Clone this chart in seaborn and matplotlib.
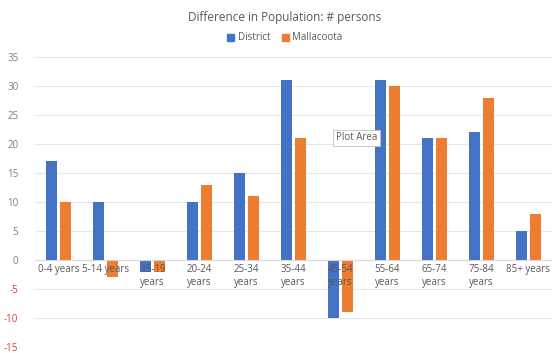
import matplotlib
matplotlib.use("Agg")
import matplotlib.pyplot as plt
import seaborn as sns
import pandas as pd

# data
age_groups = ["0-4 years", "5-14 years", "15-19\nyears", "20-24\nyears", "25-34\nyears",
              "35-44\nyears", "45-54\nyears", "55-64\nyears", "65-74\nyears", "75-84\nyears",
              "85+ years"]
district = [17, 10, -2, 10, 15, 31, -10, 31, 21, 22, 5]
mallacoota = [10, -3, -2, 13, 11, 21, -9, 30, 21, 28, 8]
y_ticks = [-15, -10, -5, 0, 5, 10, 15, 20, 25, 30, 35]

df = pd.DataFrame({
    "age": age_groups * 2,
    "value": district + mallacoota,
    "area": ["District"] * len(district) + ["Mallacoota"] * len(mallacoota),
})

sns.set_theme(style="white")
plt.rcParams['font.family'] = ['Open Sans', 'DejaVu Sans']

fig = plt.figure(figsize=(5.52, 3.53), dpi=100)
ax = fig.add_axes([35 / 552, 6 / 353, 517 / 552, 290 / 353])

sns.barplot(data=df, x="age", y="value", hue="area", order=age_groups,
            palette={"District": "#4472C4", "Mallacoota": "#ED7D31"}, saturation=1,
            width=0.6, gap=0.25, linewidth=0, ax=ax, legend=False)

ax.set_ylim(-15, 35)
ax.set_xlim(-0.5, len(age_groups) - 0.5)
ax.set_yticks(y_ticks)
ax.set_yticklabels([str(t) for t in y_ticks])
for lbl, t in zip(ax.get_yticklabels(), y_ticks):
    lbl.set_color("#e03c3c" if t < 0 else "#7f7f7f")
    lbl.set_fontsize(7)
ax.tick_params(axis="y", length=0, pad=12)
ax.tick_params(axis="x", length=0, pad=3, labelsize=7, labelcolor="#595959")
ax.yaxis.grid(True, color="#e6e6e6", linewidth=0.8)
ax.set_axisbelow(True)
# category labels sit on top of the bars, like in the original
ax.xaxis.set_zorder(3)

for side in ["top", "right", "left"]:
    ax.spines[side].set_visible(False)
ax.spines["bottom"].set_position(("data", 0))
ax.spines["bottom"].set_color("#d9d9d9")
ax.spines["bottom"].set_linewidth(0.8)
ax.set_xlabel("")
ax.set_ylabel("")

fig.text(0.516, 1 - 17 / 353, "Difference in Population: # persons", ha="center", va="center",
         fontsize=8.5, color="#595959")

handles = [plt.Rectangle((0, 0), 1, 1, color="#4472C4"), plt.Rectangle((0, 0), 1, 1, color="#ED7D31")]
fig.legend(handles, ["District", "Mallacoota"], loc="center", bbox_to_anchor=(0.516, 1 - 38 / 353),
           ncol=2, frameon=False, fontsize=7, labelcolor="#595959", handlelength=0.7,
           handleheight=0.7, handletextpad=0.4, columnspacing=1.2)

fig.text(336 / 552, 1 - 138 / 353, "Plot Area", ha="left", va="center", fontsize=7, color="#595959",
         bbox=dict(boxstyle="square,pad=0.3", facecolor="white", edgecolor="#bfbfbf", linewidth=0.6))

fig.savefig("out.png", dpi=100)
